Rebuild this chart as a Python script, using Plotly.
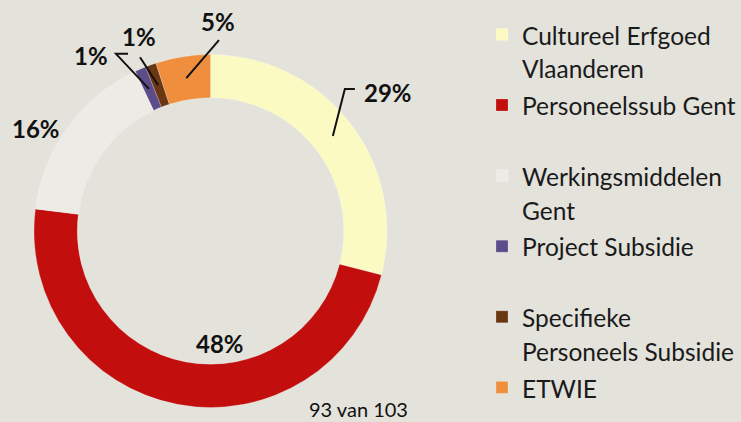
import math
import plotly.graph_objects as go

# ---------------- data ----------------
labels = ["Cultureel Erfgoed Vlaanderen", "Personeelssub Gent", "Werkingsmiddelen Gent",
          "Project Subsidie", "Specifieke Personeels Subsidie", "ETWIE"]
legend_lines = [["Cultureel Erfgoed", "Vlaanderen"], ["Personeelssub Gent", " "],
                ["Werkingsmiddelen", "Gent"], ["Project Subsidie", " "],
                ["Specifieke", "Personeels Subsidie"], ["ETWIE"]]
values = [29, 48, 16, 1, 1, 5]
pct_labels = ["29%", "48%", "16%", "1%", "1%", "5%"]
footer = "93 van 103"

# ---------------- style ----------------
W, H = 741, 422
BG = "#E3E2DB"
colors = ["#FBFAC3", "#C20E0C", "#ECEBE5", "#5C4C8A", "#6A3712", "#EF8F3E"]
CX, CY, R = 210.5, 231.0, 176.5      # pie centre / outer radius (px)
HOLE = 0.755
RMID = R * (1 + HOLE) / 2
# label offset from ring anchor (px)
lab_dx = [55, 38.5, -49.7, -57.5, -19, 31.7]
lab_dy = [-44, -40, -11, -33, -49, -57]
# leader polyline points, as offsets from the label centre (drawn from ring anchor)
lead_off = [[(-43, -3), (-33, -3)], [], [], [(24.5, -2), (36.5, -2)], [(1, 21)], [(1, 19)]]
LEG_TEXT_SIZE = 24.5

def px2paper(x, y):
    return x / W, 1 - y / H

legend_text = ["<br>".join('<span style="font-size:%.1fpx">%s</span>' % (LEG_TEXT_SIZE, t)
                           for t in lines) for lines in legend_lines]

fig = go.Figure(go.Pie(
    labels=legend_text, values=values, sort=False, direction="clockwise",
    rotation=0, hole=HOLE, textinfo="none", hoverinfo="percent",
    marker=dict(colors=colors, line=dict(color="rgba(255,255,255,0.35)", width=0.6)),
    domain=dict(x=[(CX - R) / W, (CX + R) / W], y=[1 - (CY + R) / H, 1 - (CY - R) / H]),
))

total = sum(values)
cum = 0
shapes, annos = [], []
for i, v in enumerate(values):
    mid = (cum + v / 2) / total * 2 * math.pi
    cum += v
    ax = CX + RMID * math.sin(mid)
    ay = CY - RMID * math.cos(mid)
    tx, ty = ax + lab_dx[i], ay + lab_dy[i]
    x, y = px2paper(tx, ty)
    annos.append(dict(x=x, y=y, xref="paper", yref="paper", xanchor="center", yanchor="middle",
                      text="<b>%s</b>" % pct_labels[i], showarrow=False,
                      font=dict(family="Lato", size=24, color="#111111")))
    if lead_off[i]:
        pts = [(ax, ay)] + [(tx + ox, ty + oy) for ox, oy in lead_off[i]]
        path = "M " + " L ".join("%.4f,%.4f" % px2paper(px, py) for px, py in pts)
        shapes.append(dict(type="path", path=path, xref="paper", yref="paper",
                           line=dict(color="#111111", width=2)))

fx, fy = px2paper(358, 409)
annos.append(dict(x=fx, y=fy, xref="paper", yref="paper", xanchor="center", yanchor="middle",
                  text=footer, showarrow=False,
                  font=dict(family="Lato", size=20, color="#111111")))

fig.update_layout(
    width=W, height=H, paper_bgcolor=BG, plot_bgcolor=BG,
    margin=dict(l=0, r=0, t=0, b=0),
    showlegend=True,
    legend=dict(x=482 / W, y=1 - 11 / H, xanchor="left", yanchor="top", valign="top",
                font=dict(family="Lato", size=26, color="#1A1A1A"), bgcolor="rgba(0,0,0,0)",
                traceorder="normal"),
    shapes=shapes, annotations=annos,
)
fig.write_html("out.html", config={"displayModeBar": False},
               post_script="document.body.style.margin='0';")
